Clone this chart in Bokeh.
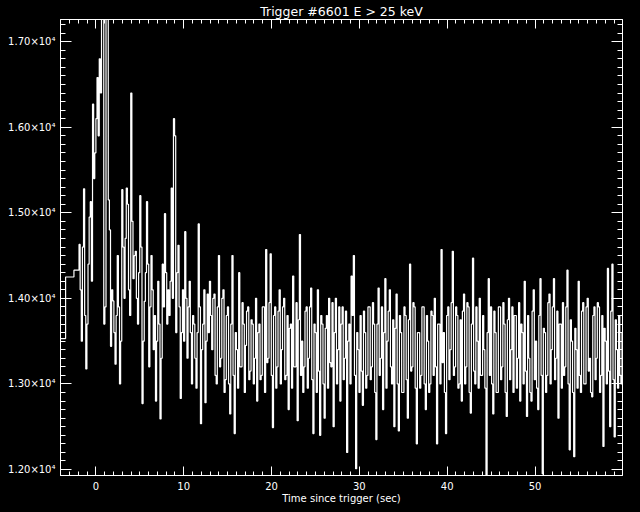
from bokeh.plotting import figure
from bokeh.models import Range1d, LinearAxis, FixedTicker, CustomJSTickFormatter
from bokeh.embed import file_html
from bokeh.resources import INLINE

# ---- data ----
# pre-trigger coarse bins: start times (s) and rates (counts/s)
pre_t = [-4.03, -3.45, -2.50]
pre_rate = [13530, 14250, 14330]

# post-trigger fine bins (0.128 s) starting at t0
fine_t0 = -1.92
fine_dt = 0.128
fine_rate = [
    14630, 14100, 13500, 14600, 15280, 13800, 13175, 13700, 14400, 14950,
    15130, 14200, 16270, 15400, 15700, 16100, 16580, 15900, 16800, 16400,
    17600, 17400, 13700, 13900, 17600, 17500, 15150, 14800, 13440, 14100,
    13970, 13600, 13230, 13800, 14500, 13900, 13000, 13500, 15270, 14600,
    14000, 14700, 15290, 15100, 14100, 13800, 16400, 14900, 14230, 14500,
    14550, 14000, 13700, 14300, 15200, 14600, 12770, 13500, 13965, 14300,
    15130, 14400, 13200, 13900, 14500, 14100, 13400, 13800, 12800, 13500,
    14200, 13700, 12590, 13300, 14400, 13900, 14990, 14300, 13700, 14100,
    13800, 14200, 15290, 14000, 16100, 15900, 13600, 14300, 14620, 13900,
    12830, 13600, 14100, 13500, 14780, 14000, 13300, 13900, 14200, 13600,
    13000, 13800, 13700, 13300, 12950, 13600, 14870, 13900, 12535, 13400,
    13700, 14100, 12780, 13500, 14050, 13600, 14200, 13800, 13400, 14000,
    14050, 13100, 13000, 13900, 14500, 13200, 13300, 14000, 14100, 12900,
    13050, 13800, 13900, 13000, 12650, 13700, 14500, 13100, 12420, 13600,
    13400, 12950, 14300, 13200, 13200, 13950, 13700, 12900, 13450, 13850,
    13900, 13050, 13150, 13750, 13700, 13000, 13300, 14000, 12800, 13600,
    13700, 13050, 13100, 13900, 13900, 12900, 14570, 13250, 13300, 13950,
    14520, 13100, 12490, 13800, 13900, 12950, 13200, 13850, 14100, 13000,
    13400, 13900, 14000, 13050, 13100, 13800, 12700, 13650, 13700, 12950,
    14260, 13200, 13200, 13950, 12570, 13750, 14745, 13100, 13500, 12900,
    13200, 13850, 13900, 12950, 13300, 13900, 14120, 13050, 12420, 13700,
    13600, 12900, 14100, 13150, 12400, 13800, 13700, 13000, 12600, 13650,
    13800, 12950, 14000, 13250, 13200, 13950, 12500, 13600, 14000, 13000,
    13400, 13900, 12800, 13700, 13900, 13050, 13300, 13850, 12200, 13500,
    13700, 13000, 14260, 13800, 14500, 13100, 12010, 13600, 13400, 12900,
    13800, 13150, 12750, 13850, 13600, 12950, 13100, 13900, 13900, 13050,
    13200, 13950, 13700, 12900, 12350, 13700, 14120, 13100, 13300, 13900,
    12700, 13600, 14230, 12950, 13500, 13850, 14100, 13200, 13000, 13750,
    12500, 13650, 14050, 13000, 12450, 13800, 13600, 12900, 12900, 13900,
    13800, 13050, 12600, 13750, 14400, 13150, 13200, 13950, 13900, 12950,
    12300, 13600, 13600, 12950, 13100, 13900, 13900, 13000, 12700, 13800,
    13500, 12900, 13000, 13850, 13800, 13100, 14000, 13200, 12300, 13700,
    13700, 13000, 14570, 13250, 13600, 12900, 12420, 13800, 13900, 13050,
    13400, 13950, 14550, 13100, 13200, 13900, 13800, 12950, 13000, 13750,
    12800, 13850, 14050, 13000, 13200, 13950, 13900, 12900, 12660, 13700,
    14470, 13150, 13000, 13900, 13500, 12950, 14000, 13100, 13100, 13800,
    13400, 12950, 11800, 13600, 14230, 13100, 13900, 13000, 12650, 13850,
    13600, 12900, 12900, 13900, 13900, 13050, 13200, 13950, 13700, 12900,
    12620, 13750, 14000, 13050, 13400, 13900, 12900, 13800, 13800, 12950,
    13300, 13950, 12800, 13700, 13600, 13000, 14200, 13150, 12620, 13800,
    13300, 12900, 12800, 13850, 14100, 13050, 13500, 12950, 12700, 13800,
    14230, 13100, 11950, 13650, 13600, 12900, 13100, 13950, 14050, 13000,
    13400, 13900, 14230, 13050, 13300, 13850, 12600, 13700, 13700, 12950,
    13950, 13100, 13200, 13900, 14330, 13000, 12230, 13750, 13500, 12900,
    12150, 13650, 13400, 12950, 14200, 13100, 12900, 13850, 13950, 13000,
    13000, 13900, 14000, 13150, 13300, 12900, 12850, 13800, 13900, 13050,
    13300, 13950, 13900, 12900, 13100, 13800, 12270, 13650, 13500, 13000,
    14350, 13150, 12500, 13850, 14400, 13050, 12380, 13750, 13400, 12950,
    13800, 13100, 13000, 13600,
]

x_ticks = [0, 10, 20, 30, 40, 50]
y_ticks = [12000, 13000, 14000, 15000, 16000, 17000]
title_text = "Trigger #6601 E > 25 keV"
x_label = "Time since trigger (sec)"

# ---- assemble step series ----
fine_t = [fine_t0 + fine_dt * i for i in range(len(fine_rate))]
t = pre_t + fine_t + [fine_t[-1] + fine_dt]
rate = pre_rate + fine_rate + [fine_rate[-1]]

FONT = "DejaVu Sans"

p = figure(width=640, height=512,
           x_range=Range1d(-4.03, 59.96), y_range=Range1d(11930, 17259),
           output_backend="svg", toolbar_location=None,
           x_axis_type=None, y_axis_type=None,
           background_fill_color="black", border_fill_color="black",
           min_border_left=60, min_border_right=18,
           min_border_top=17, min_border_bottom=37)
p.grid.visible = False
p.outline_line_color = "white"

p.title.text = title_text
p.title.align = "center"
p.title.text_color = "white"
p.title.text_font = FONT
p.title.text_font_size = "12.5px"
p.title.text_font_style = "normal"
p.title.standoff = 2

x_minor = list(range(-4, 60))
y_minor = list(range(11900, 17300, 100))


def style(ax, major_in, minor_in):
    ax.axis_line_color = "white"
    ax.major_tick_line_color = "white"
    ax.minor_tick_line_color = "white"
    ax.major_tick_in = major_in
    ax.major_tick_out = 0
    ax.minor_tick_in = minor_in
    ax.minor_tick_out = 0
    ax.major_label_text_color = "white"
    ax.major_label_text_font = FONT
    ax.major_label_text_font_size = "10px"


blank = CustomJSTickFormatter(code="return '';")

xb = LinearAxis(ticker=FixedTicker(ticks=x_ticks, minor_ticks=x_minor),
                axis_label=x_label)
style(xb, 9, 4)
xb.major_label_standoff = 6
xb.axis_label_standoff = 0
xb.axis_label_text_color = "white"
xb.axis_label_text_font = FONT
xb.axis_label_text_font_size = "10px"
xb.axis_label_text_font_style = "normal"
p.add_layout(xb, "below")

xt = LinearAxis(ticker=FixedTicker(ticks=x_ticks, minor_ticks=x_minor),
                formatter=blank)
style(xt, 9, 4)
xt.major_label_standoff = 0
p.add_layout(xt, "above")

yl = LinearAxis(ticker=FixedTicker(ticks=y_ticks, minor_ticks=y_minor),
                formatter=CustomJSTickFormatter(
                    code="return (tick/10000).toFixed(2) + '\\u00d710\\u2074';"))
style(yl, 11, 5)
yl.major_label_standoff = 5
p.add_layout(yl, "left")

yr = LinearAxis(ticker=FixedTicker(ticks=y_ticks, minor_ticks=y_minor),
                formatter=blank)
style(yr, 11, 5)
yr.major_label_standoff = 0
p.add_layout(yr, "right")

p.step(t, rate, mode="after", line_color="white", line_width=1.2)

html = file_html(p, INLINE, title="Trigger 6601")
html = html.replace("<body>", '<body style="margin:0;background-color:#000000;">')
open("out.html", "w", encoding="utf-8").write(html)
